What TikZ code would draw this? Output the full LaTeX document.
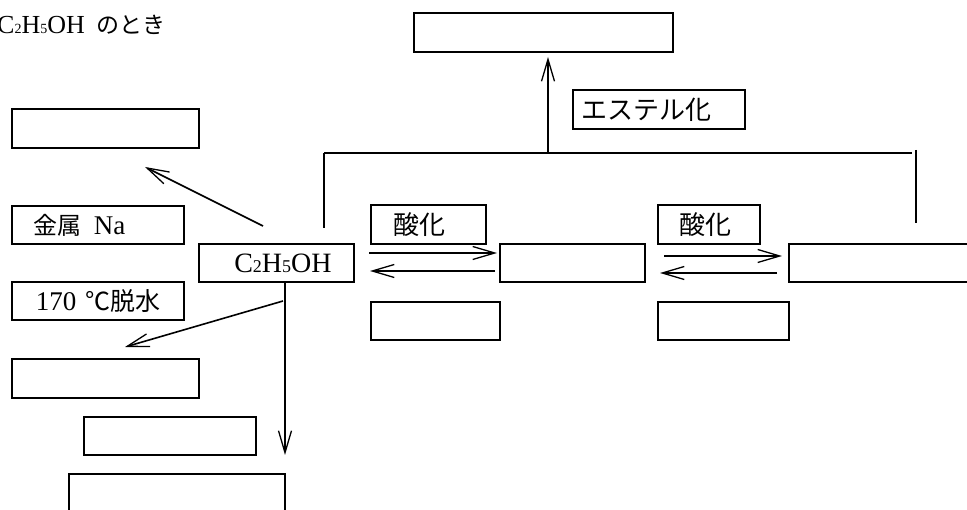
\documentclass[tikz,border=0pt]{standalone}
\usepackage{fontspec}
\setmainfont{Liberation Serif}
\newfontfamily\jp{Noto Sans CJK JP}
\usetikzlibrary{arrows.meta}
\newcommand\lowsub[2]{{\fontsize{#1}{#1}\selectfont #2}}
\begin{document}
\begin{tikzpicture}[x=1pt,y=-1pt,
  box/.style={draw,line width=1.9pt,inner sep=0pt,anchor=north west},
  conn/.style={line width=1.6pt},
  arr/.style={conn,-{Straight Barb[length=22pt,width=13pt,line width=1.3pt]}}]
\useasboundingbox (0,0) rectangle (967,510);
\begin{scope}
\clip (0,0) rectangle (967,510);
% title
\node[anchor=base west,inner sep=0pt,font=\fontsize{26}{26}\selectfont] (title) at (-3,34)
  {C\lowsub{14}{2}H\lowsub{14}{5}OH\hspace{12pt}{\jp\fontsize{23}{23}\selectfont のとき}};
% boxes
\node[box,minimum width=259pt,minimum height=39pt] (top) at (413,12) {};
\node[box,minimum width=172pt,minimum height=39pt,text width=154pt,inner xsep=9pt,align=left,font=\jp\fontsize{26}{26}\selectfont] (ester) at (572,89) {\mbox{エステル化}};
\node[box,minimum width=187pt,minimum height=39pt] (l1) at (11,108) {};
\node[box,minimum width=172pt,minimum height=38pt,text width=128pt,inner xsep=22pt,align=left,font=\fontsize{27}{27}\selectfont] (na) at (11,205) {\mbox{{\jp\fontsize{24}{24}\selectfont 金属}\hspace{3pt} Na}};
\node[box,minimum width=155pt,minimum height=38pt,font=\fontsize{28}{28}\selectfont] (eth) at (198,243) {\hspace{13pt}C\lowsub{18}{2}H\lowsub{18}{5}OH};
\node[box,minimum width=172pt,minimum height=38pt,text width=124pt,inner xsep=24pt,align=left,font=\fontsize{27}{27}\selectfont] (dehyd) at (11,281) {\mbox{170 {\jp\fontsize{25}{25}\selectfont ℃脱水}}};
\node[box,minimum width=187pt,minimum height=39pt] (l2) at (11,358) {};
\node[box,minimum width=172pt,minimum height=38pt] (l3) at (83,416) {};
\node[box,minimum width=216pt,minimum height=45pt] (l4) at (68,473) {};
\node[box,minimum width=115pt,minimum height=39pt,text width=69pt,inner xsep=23pt,align=left,font=\jp\fontsize{26}{26}\selectfont] (ox1) at (370,204) {\mbox{酸化}};
\node[box,minimum width=145pt,minimum height=38pt] (m1) at (499,243) {};
\node[box,minimum width=129pt,minimum height=38pt] (u1) at (370,301) {};
\node[box,minimum width=102pt,minimum height=39pt,text width=58pt,inner xsep=22pt,align=left,font=\jp\fontsize{26}{26}\selectfont] (ox2) at (657,204) {\mbox{酸化}};
\node[box,minimum width=190pt,minimum height=38pt] (r) at (788,243) {};
\node[box,minimum width=131pt,minimum height=38pt] (u2) at (657,301) {};
% connector points
\coordinate (hl) at (324,153);
\coordinate (hr) at (912,153);
\coordinate (hm) at (548,153);
\coordinate (ht) at (548,57);
\coordinate (vl) at (324,228);
\coordinate (vrt) at (916,150);
\coordinate (vrb) at (916,223);
\coordinate (a1s) at (263,226);
\coordinate (a1e) at (145,167);
\coordinate (a2s) at (283,301);
\coordinate (a2e) at (125,347);
\coordinate (a3e) at (285,455);
\coordinate (b1s) at (369,253);
\coordinate (b1e) at (497,253);
\coordinate (b2s) at (495,271);
\coordinate (b2e) at (370,271);
\coordinate (c1s) at (664,256);
\coordinate (c1e) at (782,256);
\coordinate (c2s) at (777,273);
\coordinate (c2e) at (660,273);
% lines
\draw[conn] (hl) -- (hr);
\draw[conn] (vl) -- (hl);
\draw[conn] (vrt) -- (vrb);
\draw[arr] (hm) -- (ht);
\draw[arr] (a1s) -- (a1e);
\draw[arr] (a2s) -- (a2e);
\draw[arr] (eth.south -| a3e) -- (a3e);
\draw[arr] (b1s) -- (b1e);
\draw[arr] (b2s) -- (b2e);
\draw[arr] (c1s) -- (c1e);
\draw[arr] (c2s) -- (c2e);
\end{scope}
\end{tikzpicture}
\end{document}
